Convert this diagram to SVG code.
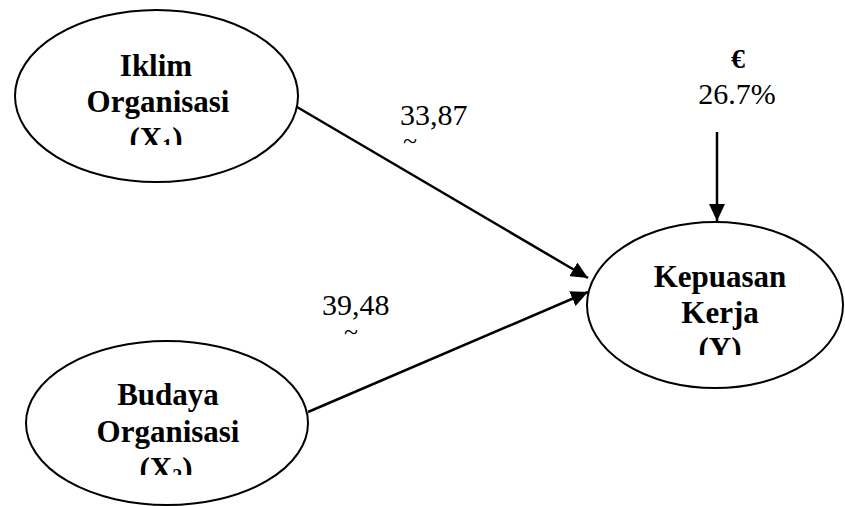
<svg xmlns="http://www.w3.org/2000/svg" width="845" height="506" viewBox="0 0 845 506">
<style>
.node ellipse{fill:#fff;stroke:#000;stroke-width:2}
.lbl{font-family:"Liberation Serif","Times New Roman",serif;font-weight:bold;font-size:31px;text-anchor:middle;fill:#000}
.num{font-family:"Liberation Serif","Times New Roman",serif;font-size:30px;fill:#000}
.tl{font-family:"Liberation Serif","Times New Roman",serif;font-size:26px;fill:#000}
.conn line{stroke:#000;stroke-width:2.5}
</style>
<defs>
<marker id="ah" markerUnits="userSpaceOnUse" markerWidth="18" markerHeight="16" refX="17" refY="8" orient="auto">
<path d="M0,0 L17,8 L0,16 Z" fill="#000"/>
</marker>
<clipPath id="c1"><rect x="0" y="0" width="320" height="145"/></clipPath>
<clipPath id="c2"><rect x="0" y="330" width="330" height="145"/></clipPath>
<clipPath id="c3"><rect x="580" y="220" width="265" height="135"/></clipPath>
<clipPath id="ct1"><rect x="390" y="136" width="40" height="8"/></clipPath>
<clipPath id="ct2"><rect x="330" y="327" width="40" height="8"/></clipPath>
</defs>
<g class="conn">
<line x1="297" y1="107" x2="588" y2="278" marker-end="url(#ah)"/>
<line x1="308" y1="412" x2="588" y2="292" marker-end="url(#ah)"/>
<line x1="717" y1="132" x2="717" y2="221" marker-end="url(#ah)"/>
</g>
<g id="x1" class="node">
<ellipse cx="156.5" cy="96" rx="141.5" ry="86"/>
<g clip-path="url(#c1)">
<text class="lbl" x="156" y="76">Iklim</text>
<text class="lbl" x="158" y="112">Organisasi</text>
<text class="lbl" x="156" y="149">(X<tspan font-size="20" dy="4">1</tspan><tspan dy="-4">)</tspan></text>
</g>
</g>
<g id="x2" class="node">
<ellipse cx="167" cy="423" rx="141" ry="82"/>
<g clip-path="url(#c2)">
<text class="lbl" x="168" y="405">Budaya</text>
<text class="lbl" x="168" y="442">Organisasi</text>
<text class="lbl" x="166" y="479">(X<tspan font-size="20" dy="4">2</tspan><tspan dy="-4">)</tspan></text>
</g>
</g>
<g id="y" class="node">
<ellipse cx="715" cy="305" rx="128" ry="83"/>
<g clip-path="url(#c3)">
<text class="lbl" x="720" y="287">Kepuasan</text>
<text class="lbl" x="720" y="323">Kerja</text>
<text class="lbl" x="720" y="359">(Y)</text>
</g>
</g>
<g id="labels">
<text class="num" x="400" y="125">33,87</text>
<text class="tl" x="403" y="149" clip-path="url(#ct1)">~</text>
<text class="num" x="322" y="315">39,48</text>
<text class="tl" x="344" y="340" clip-path="url(#ct2)">~</text>
<text class="lbl" x="738" y="68" style="font-size:28px">€</text>
<text class="num" x="737" y="104" text-anchor="middle">26.7%</text>
</g>
</svg>
